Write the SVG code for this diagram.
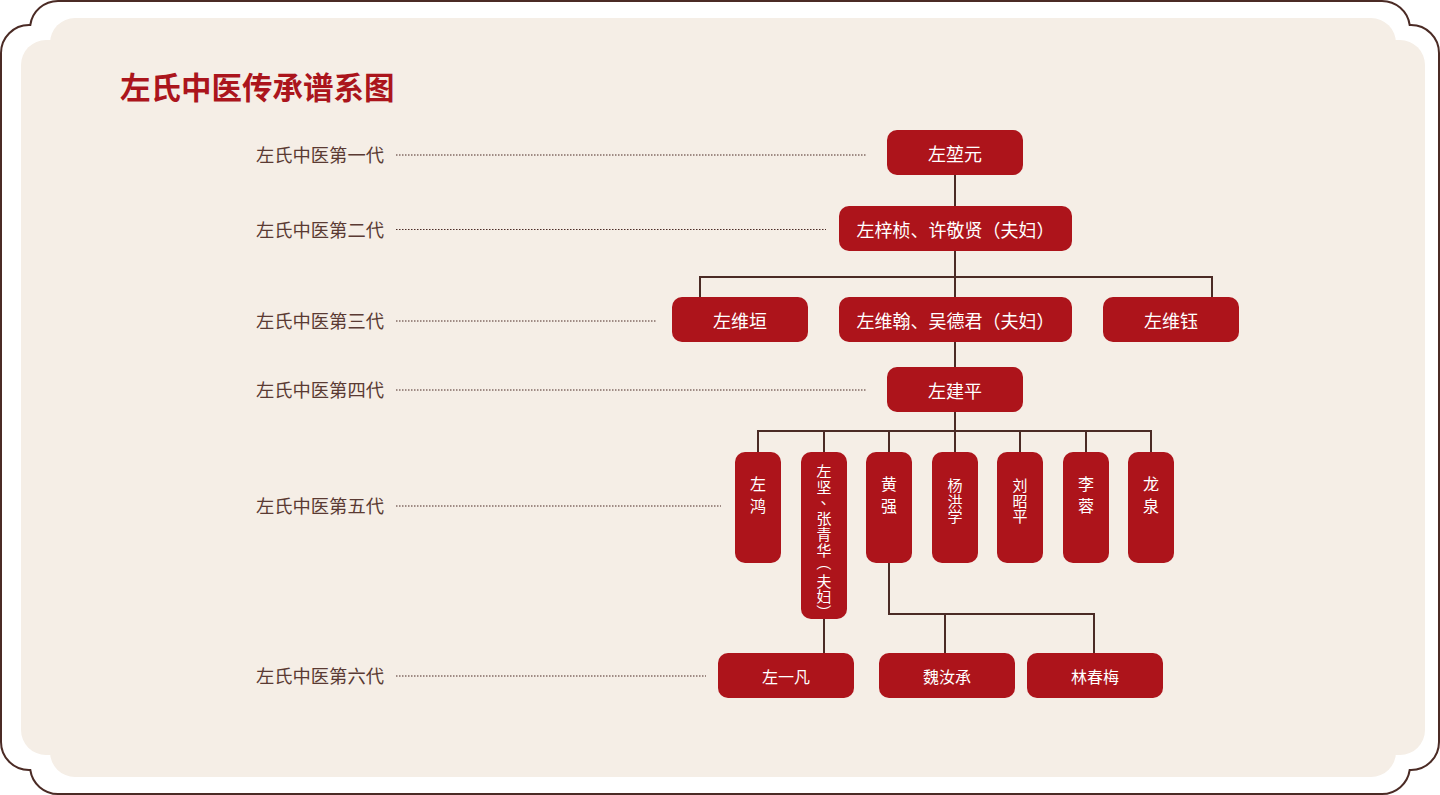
<svg xmlns="http://www.w3.org/2000/svg" width="1440" height="795" viewBox="0 0 1440 795">
<defs>
<style>
text{text-spacing-trim:space-all}
.frame{fill:none;stroke:#4b2b25;stroke-width:2}
.bg{fill:#f5eee6}
.title{font-family:"Noto Sans CJK SC","Noto Sans",sans-serif;font-size:30.5px;font-weight:bold;fill:#ab151c}
.gen{font-family:"Noto Sans CJK SC","Noto Sans",sans-serif;font-size:18.3px;fill:#5a3a33;dominant-baseline:central}
.dot{stroke:#4b2b25;stroke-width:1;stroke-dasharray:1.5 1.5;fill:none}
.node{fill:#ad141b}
.nt{font-family:"Noto Sans CJK SC","Noto Sans",sans-serif;font-size:18px;fill:#ffffff;text-anchor:middle;dominant-baseline:central}
.nt6{font-family:"Noto Sans CJK SC","Noto Sans",sans-serif;font-size:16px;fill:#ffffff;text-anchor:middle;dominant-baseline:central}
.vt{font-family:"Noto Sans CJK SC","Noto Sans",sans-serif;font-size:16px;fill:#ffffff;text-anchor:middle;dominant-baseline:central}
.vs{font-family:"Noto Sans CJK SC","Noto Sans",sans-serif;font-size:15px;fill:#ffffff;text-anchor:middle;dominant-baseline:central}
.conn{fill:none;stroke:#4b2b25;stroke-width:2}
</style>
</defs>
<path class="frame" d="M58 1H1382A28 28 0 0 1 1409.7 25H1411A28 28 0 0 1 1439 53V742A28 28 0 0 1 1411 770H1409.7A28 28 0 0 1 1382 794H58A28 28 0 0 1 30.3 770H29A28 28 0 0 1 1 742V53A28 28 0 0 1 29 25H30.3A28 28 0 0 1 58 1Z"/>
<rect class="bg" x="50" y="18" width="1346" height="759" rx="25"/>
<rect class="bg" x="21" y="40" width="1404" height="715" rx="25"/>
<text class="title" x="120" y="99">左氏中医传承谱系图</text>
<g id="generation-labels">
<text class="gen" x="256" y="154">左氏中医第一代</text>
<text class="gen" x="256" y="229">左氏中医第二代</text>
<text class="gen" x="256" y="320">左氏中医第三代</text>
<text class="gen" x="256" y="389">左氏中医第四代</text>
<text class="gen" x="256" y="505">左氏中医第五代</text>
<text class="gen" x="256" y="675">左氏中医第六代</text>
<line class="dot" x1="396" y1="155" x2="866" y2="155"/>
<line class="dot" x1="396" y1="229.5" x2="826" y2="229.5"/>
<line class="dot" x1="396" y1="321" x2="657" y2="321"/>
<line class="dot" x1="396" y1="390" x2="866" y2="390"/>
<line class="dot" x1="396" y1="506" x2="721" y2="506"/>
<line class="dot" x1="396" y1="676" x2="706" y2="676"/>
</g>
<g id="connectors">
<path class="conn" d="M955 175V206"/>
<path class="conn" d="M955 251V297M700 297V277H1212V297"/>
<path class="conn" d="M955 342V367"/>
<path class="conn" d="M955 412V452M758 452V431H1151V452M824 431V452M889 431V452M1020 431V452M1086 431V452"/>
<path class="conn" d="M824 619V653"/>
<path class="conn" d="M889 563V614H1094V653M945 614V653"/>
</g>
<g id="n1"><rect class="node" x="887" y="130" width="136" height="45" rx="10"/><text class="nt" x="955" y="152.5">左堃元</text></g>
<g id="n2"><rect class="node" x="839" y="206" width="233" height="45" rx="10"/><text class="nt" x="955.5" y="228.5">左梓桢、许敬贤（夫妇）</text></g>
<g id="n3a"><rect class="node" x="672" y="297" width="136" height="45" rx="10"/><text class="nt" x="740" y="319.5">左维垣</text></g>
<g id="n3b"><rect class="node" x="839" y="297" width="233" height="45" rx="10"/><text class="nt" x="955.5" y="319.5">左维翰、吴德君（夫妇）</text></g>
<g id="n3c"><rect class="node" x="1103" y="297" width="136" height="45" rx="10"/><text class="nt" x="1171" y="319.5">左维钰</text></g>
<g id="n4"><rect class="node" x="887" y="367" width="136" height="45" rx="10"/><text class="nt" x="955" y="389.5">左建平</text></g>
<g id="n5a"><rect class="node" x="735" y="452" width="46" height="111" rx="10"/><text class="vt" x="758 758" y="482.5 504.5">左鸿</text></g>
<g id="n5b"><rect class="node" x="801" y="452" width="46" height="167" rx="10"/>
<text class="vs" x="824 824 828 824 824 824" y="470 486 497 517 533 549">左坚、张青华</text>
<text class="vs" x="824" y="563" transform="rotate(90 824 563)">（</text>
<text class="vs" x="824 824" y="580 595.5">夫妇</text>
<text class="vs" x="824" y="612" transform="rotate(90 824 612)">）</text>
</g>
<g id="n5c"><rect class="node" x="866" y="452" width="46" height="111" rx="10"/><text class="vt" x="889 889" y="482.5 504.5">黄强</text></g>
<g id="n5d"><rect class="node" x="932" y="452" width="46" height="111" rx="10"/><text class="vs" x="955 955 955" y="484.5 500 515.5">杨洪学</text></g>
<g id="n5e"><rect class="node" x="997" y="452" width="46" height="111" rx="10"/><text class="vs" x="1020 1020 1020" y="484.5 500 515.5">刘昭平</text></g>
<g id="n5f"><rect class="node" x="1063" y="452" width="46" height="111" rx="10"/><text class="vt" x="1086 1086" y="482.5 504.5">李蓉</text></g>
<g id="n5g"><rect class="node" x="1128" y="452" width="46" height="111" rx="10"/><text class="vt" x="1151 1151" y="482.5 504.5">龙泉</text></g>
<g id="n6a"><rect class="node" x="718" y="653" width="136" height="45" rx="10"/><text class="nt6" x="786" y="675.5">左一凡</text></g>
<g id="n6b"><rect class="node" x="879" y="653" width="136" height="45" rx="10"/><text class="nt6" x="947" y="675.5">魏汝承</text></g>
<g id="n6c"><rect class="node" x="1027" y="653" width="136" height="45" rx="10"/><text class="nt6" x="1095" y="675.5">林春梅</text></g>
</svg>
